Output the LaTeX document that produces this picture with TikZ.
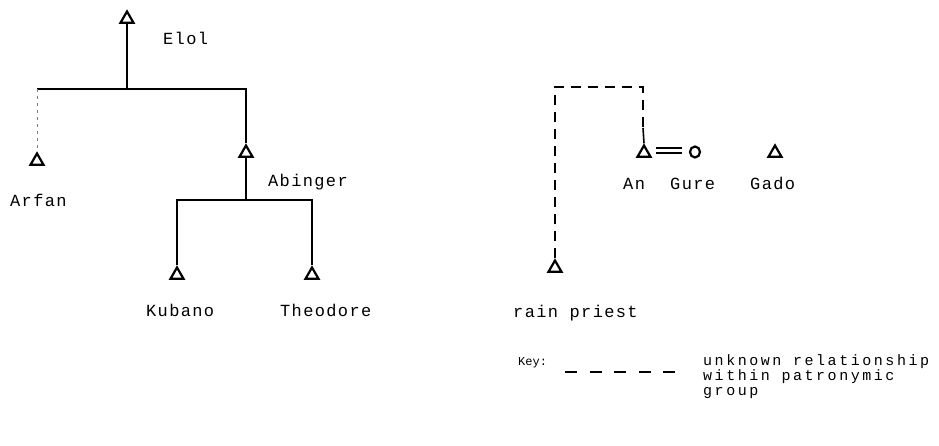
\documentclass[tikz,border=0pt]{standalone}
\usepackage{fontspec}
\setmonofont{Liberation Mono}[LetterSpace=8]
\newfontfamily\keyfont{Liberation Mono}
\newfontfamily\keytextfont{Liberation Mono}[LetterSpace=17]
\usetikzlibrary{shapes.geometric}
\begin{document}
\begin{tikzpicture}[x=1pt,y=1pt,
  person/.style={regular polygon,regular polygon sides=3,draw,line width=2.2pt,minimum size=15pt,inner sep=0pt},
  female/.style={ellipse,draw,line width=2.2pt,minimum width=10pt,minimum height=11pt,inner sep=0pt},
  lbl/.style={anchor=base west,inner sep=0pt,font=\fontsize{17}{14.5}\ttfamily},
  keylbl/.style={anchor=base west,inner sep=0pt,font=\fontsize{15}{14}\keytextfont},
  tie/.style={line width=2pt},
  unk/.style={line width=2pt,dash pattern=on 10pt off 7pt},
  faint/.style={line width=0.8pt,gray,dash pattern=on 3pt off 4pt},
  keydash/.style={line width=2pt,dash pattern=on 12pt off 12.5pt}]
\useasboundingbox (0,0) rectangle (939,446);
% left genealogy
\node[person] (elol) at (127,427) {};
\node[person] (arfan) at (37,285) {};
\node[person] (abinger) at (246,293) {};
\node[person] (kubano) at (177,171) {};
\node[person] (theodore) at (312,171) {};
\coordinate (barL) at (37,357);
\coordinate (barM) at (127,357);
\coordinate (barR) at (246,357);
\coordinate (bar2L) at (177,246);
\coordinate (bar2M) at (246,246);
\coordinate (bar2R) at (312,246);
\draw[tie] (elol.south) -- (barM);
\draw[tie] (barL) -- (barR) -- (abinger.north);
\draw[faint] (barL) -- (arfan.north);
\draw[tie] (abinger.south) -- (bar2M);
\draw[tie] (kubano.north) -- (bar2L) -- (bar2R) -- (theodore.north);
\node[lbl] (elolt) at (163,401) {Elol};
\node[lbl] (arfant) at (10,239) {Arfan};
\node[lbl] (abingert) at (268,259) {Abinger};
\node[lbl] (kubanot) at (146,129) {Kubano};
\node[lbl] (theodoret) at (280,129) {Theodore};
% right genealogy
\node[person] (rain) at (555,178) {};
\node[person] (an) at (644,293) {};
\node[female] (gure) at (695,294) {};
\node[person] (gado) at (775,293) {};
\coordinate (c1) at (555,359);
\coordinate (c2) at (643,359);
\coordinate (c3) at (643,318);
\coordinate (e1a) at (656,298);
\coordinate (e1b) at (682,298);
\coordinate (e2a) at (656,293);
\coordinate (e2b) at (682,293);
\draw[unk] (rain.north) -- (c1) -- (c2) -- (c3);
\draw[tie,line width=1.6pt] (c3) -- (an.north);
\draw[line width=1.8pt] (e1a) -- (e1b);
\draw[line width=1.8pt] (e2a) -- (e2b);
\node[lbl] (ant) at (623,256) {An};
\node[lbl] (guret) at (670,256) {Gure};
\node[lbl] (gadot) at (750,256) {Gado};
\node[lbl] (raint) at (513,128) {rain priest};
% key
\node[anchor=base west,inner sep=0pt,font=\fontsize{12}{13}\keyfont] (key) at (518,80) {Key:};
\coordinate (k1) at (565,74);
\coordinate (k2) at (675,74);
\draw[keydash] (k1) -- (k2);
\node[keylbl] (key1) at (703,80) {unknown relationship};
\node[keylbl] (key2) at (703,65) {within patronymic};
\node[keylbl] (key3) at (703,50) {group};
\end{tikzpicture}
\end{document}
